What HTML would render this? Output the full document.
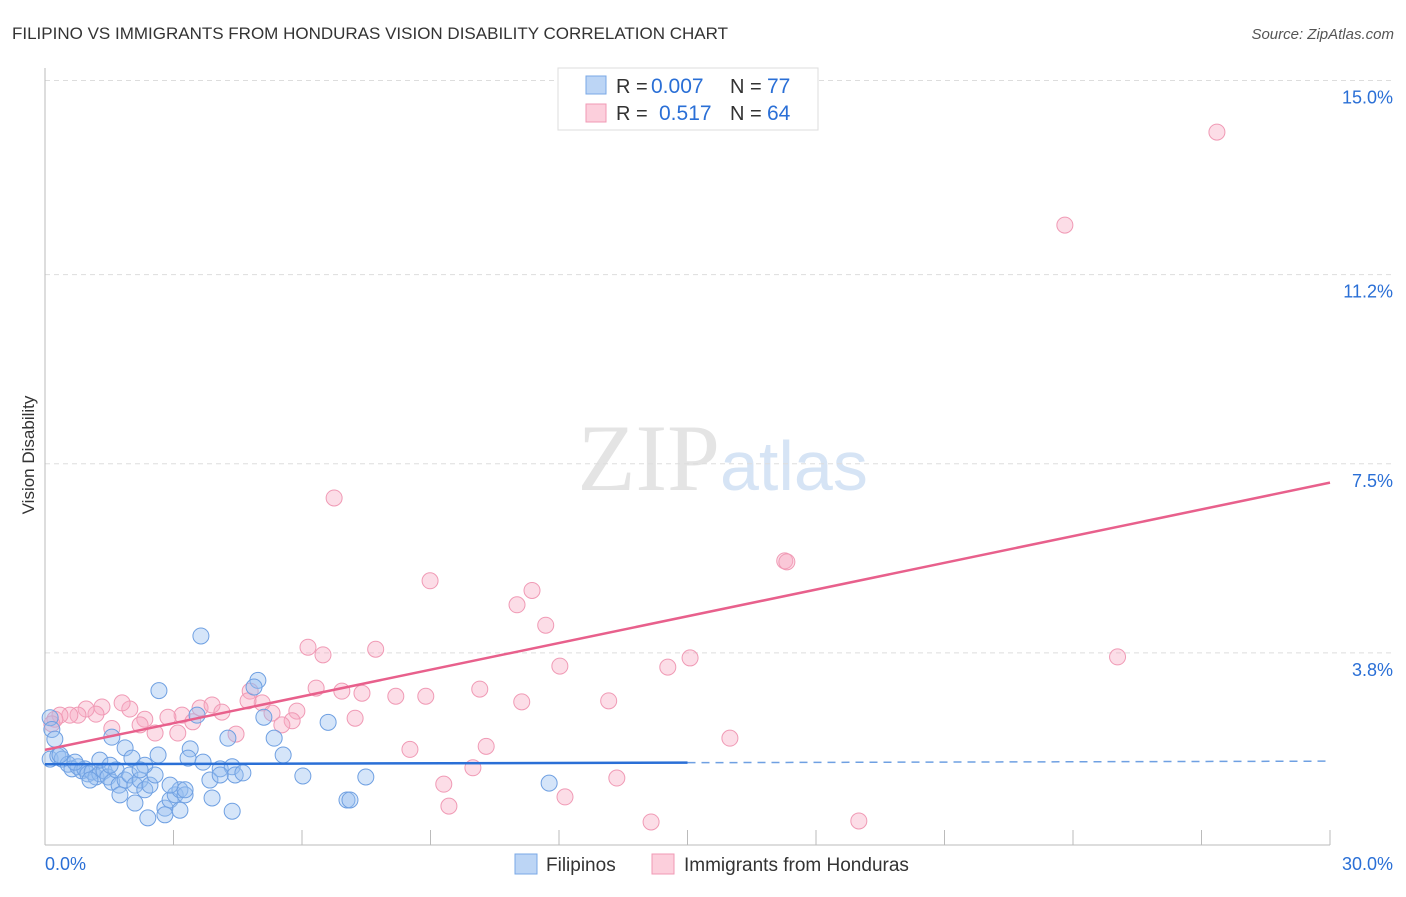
<!DOCTYPE html>
<html><head><meta charset="utf-8"><style>
body{margin:0;background:#fff;font-family:"Liberation Sans",sans-serif;}
</style></head><body>
<svg width="1406" height="892" xmlns="http://www.w3.org/2000/svg">
<text x="12" y="39" font-size="17" fill="#333">FILIPINO VS IMMIGRANTS FROM HONDURAS VISION DISABILITY CORRELATION CHART</text>
<text x="1394" y="39" font-size="15" fill="#555" font-style="italic" text-anchor="end">Source: ZipAtlas.com</text>
<text x="720" y="490" font-size="95" fill="#e4e4e4" text-anchor="end" font-family="Liberation Serif,serif">ZIP</text>
<text x="720" y="490" font-size="70" fill="#d6e4f5">atlas</text>
<g id="grid"></g><g id="axes"></g><g id="pts"></g><g id="lines"></g>
<text x="34" y="455" font-size="17" fill="#333" text-anchor="middle" transform="rotate(-90 34 455)">Vision Disability</text>
<g>
<rect x="558" y="68" width="260" height="62" fill="#fff" stroke="#ddd"/>
<rect x="586" y="76" width="20" height="18" fill="#bcd5f5" stroke="#7aa8e6"/>
<rect x="586" y="104" width="20" height="18" fill="#fccfdc" stroke="#f09ab5"/>
<text x="616" y="93" font-size="20" fill="#333">R =</text>
<text x="651" y="93" font-size="21" fill="#2a6fd6">0.007</text>
<text x="730" y="93" font-size="20" fill="#333">N =</text>
<text x="767" y="93" font-size="21" fill="#2a6fd6">77</text>
<text x="616" y="120" font-size="20" fill="#333">R =</text>
<text x="659" y="120" font-size="21" fill="#2a6fd6">0.517</text>
<text x="730" y="120" font-size="20" fill="#333">N =</text>
<text x="767" y="120" font-size="21" fill="#2a6fd6">64</text>
</g>
<g>
<rect x="515" y="854" width="22" height="20" fill="#bcd5f5" stroke="#7aa8e6"/>
<text x="546" y="871" font-size="19" fill="#333">Filipinos</text>
<rect x="652" y="854" width="22" height="20" fill="#fccfdc" stroke="#f09ab5"/>
<text x="684" y="871" font-size="19" fill="#333">Immigrants from Honduras</text>
</g>
</svg>
<script>
const yTicks=[3.8,7.5,11.2,15.0];
const xTickLabels=["0.0%","30.0%"];
const blueX=[0.12,0.16,0.23,0.12,0.3,0.4,0.54,0.63,0.77,0.86,0.93,1.0,1.1,1.19,1.28,1.38,1.47,1.56,1.66,1.73,1.87,1.98,2.1,2.22,2.33,2.45,2.57,1.75,2.1,2.4,2.8,2.92,3.04,3.15,3.27,1.87,1.56,2.03,2.33,2.64,3.64,2.66,3.55,3.39,3.34,3.69,3.9,4.09,4.27,4.37,4.44,4.62,4.97,4.88,5.11,5.35,5.56,6.02,6.61,7.05,7.12,7.49,11.77,4.37,2.8,3.15,3.27,2.22,0.35,0.7,1.05,1.28,1.52,3.85,4.09,2.92];
const blueY=[2.53,2.3,2.11,1.72,1.78,1.72,1.62,1.53,1.57,1.49,1.53,1.43,1.47,1.37,1.43,1.49,1.37,1.27,1.51,1.21,1.31,1.41,1.21,1.31,1.12,1.21,1.41,1.02,0.86,0.57,0.76,0.92,1.02,1.12,1.02,1.94,2.15,1.74,1.6,1.8,4.13,3.06,2.58,1.92,1.74,1.66,0.96,1.53,2.13,1.57,1.41,1.45,3.26,3.13,2.54,2.13,1.8,1.39,2.44,0.92,0.92,1.37,1.25,0.7,0.63,0.72,1.12,1.51,1.8,1.66,1.31,1.7,1.6,1.31,1.41,1.21];
const pinkX=[27.36,23.81,6.75,8.99,17.27,17.32,11.37,11.02,11.69,6.14,6.49,7.72,12.02,14.54,15.06,25.04,6.33,6.93,7.4,8.19,8.89,10.15,11.13,13.16,4.79,5.07,4.74,3.62,3.9,4.13,3.2,3.45,2.87,2.33,1.98,1.8,1.33,1.19,0.96,0.77,0.58,0.35,0.23,0.16,1.56,2.57,2.22,3.1,4.46,5.3,5.88,5.77,5.53,7.24,8.52,10.3,15.99,9.99,9.31,13.35,9.43,12.14,14.15,19.0];
const pinkY=[13.99,12.17,6.83,5.21,5.6,5.58,5.02,4.74,4.34,3.91,3.76,3.87,3.54,3.52,3.7,3.72,3.11,3.05,3.01,2.95,2.95,3.09,2.84,2.86,3.05,2.82,2.86,2.72,2.78,2.64,2.58,2.45,2.54,2.5,2.7,2.82,2.74,2.6,2.7,2.58,2.58,2.58,2.5,2.41,2.32,2.23,2.39,2.23,2.21,2.62,2.66,2.47,2.39,2.52,1.91,1.97,2.13,1.55,1.23,1.35,0.8,0.98,0.49,0.51];
const trendBlue=[1.62,1.68];
const trendPink=[1.9,7.13];
const NS="http://www.w3.org/2000/svg";
const x0=45,x1=1330,yb=847,ppu=51.1;
const sx=v=>x0+(v/30)*(x1-x0), sy=v=>yb-v*ppu;
function mk(tag,attrs,parent){const e=document.createElementNS(NS,tag);for(const k in attrs)e.setAttribute(k,attrs[k]);document.getElementById(parent).appendChild(e);return e;}
yTicks.forEach(t=>{
 const g=mk('line',{x1:45,x2:1395,y1:sy(t),y2:sy(t),stroke:'#ddd','stroke-dasharray':'5,4'},'grid');
 
 
 const tx=mk('text',{x:1393,y:sy(t)+23,'font-size':18,fill:'#2a6fd6','text-anchor':'end'},'grid');
 tx.textContent=t.toFixed(1)+'%';
 
 
});
const ax=mk('line',{x1:45,x2:1330,y1:845,y2:845,stroke:'#bbb'},'axes');


const ay=mk('line',{x1:45,x2:45,y1:68,y2:845,stroke:'#bbb'},'axes');


for(let i=1;i<=10;i++){const t=mk('line',{x1:sx(i*3),x2:sx(i*3),y1:830,y2:845,stroke:'#bbb'},'axes');
 
 }
xTickLabels.forEach((l,i)=>{const t=mk('text',{x:i?1393:45,y:870,'font-size':18,fill:'#2a6fd6','text-anchor':i?'end':'start'},'axes');t.textContent=l;
 
 });
pinkX.forEach((v,i)=>{const c=mk('circle',{cx:sx(v),cy:sy(pinkY[i]),r:8,fill:'rgba(248,170,195,0.4)',stroke:'#f09ab5','stroke-width':1},'pts');
 
 });
blueX.forEach((v,i)=>{const c=mk('circle',{cx:sx(v),cy:sy(blueY[i]),r:8,fill:'rgba(150,190,240,0.4)',stroke:'#6fa0e2','stroke-width':1},'pts');
 
 });
const xm=15;
const bl=mk('line',{x1:sx(0),y1:sy(trendBlue[0]),x2:sx(xm),y2:sy(trendBlue[0]+(trendBlue[1]-trendBlue[0])*xm/30),stroke:'#2a6fd6','stroke-width':2.5},'lines');


const bd=mk('line',{x1:sx(xm),y1:sy(trendBlue[0]+(trendBlue[1]-trendBlue[0])*xm/30),x2:sx(30),y2:sy(trendBlue[1]),stroke:'#6fa0e2','stroke-width':1.5,'stroke-dasharray':'8,6'},'lines');


const pl=mk('line',{x1:sx(0),y1:sy(trendPink[0]),x2:sx(30),y2:sy(trendPink[1]),stroke:'#e8608c','stroke-width':2.5},'lines');


</script>
</body></html>
